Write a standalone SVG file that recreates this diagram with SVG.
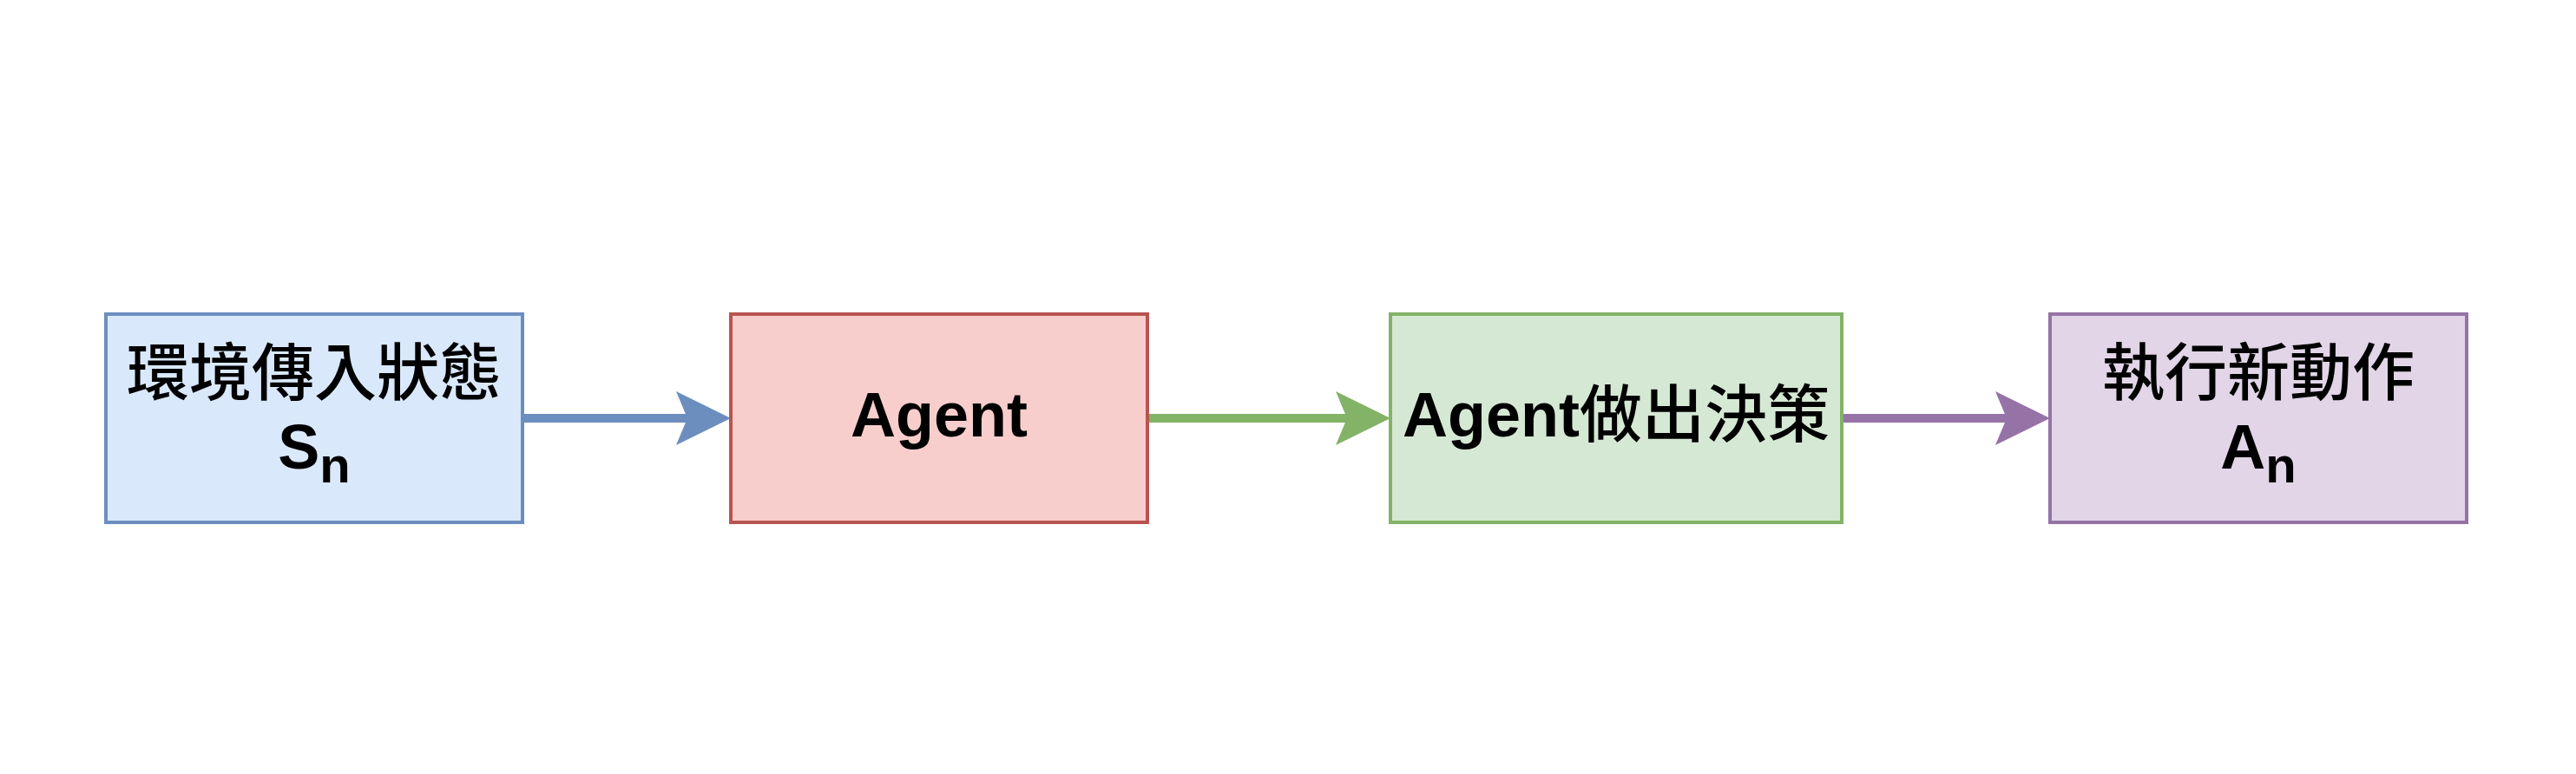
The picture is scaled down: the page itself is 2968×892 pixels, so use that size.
<svg xmlns="http://www.w3.org/2000/svg" width="2968" height="892" viewBox="0 0 2968 892">
  <style>
    .box { stroke-width: 4; }
    .lbl { font-family: "Liberation Sans", "Noto Sans CJK TC", sans-serif; font-weight: bold; font-size: 72px; fill: #000000; text-anchor: middle; }
    .cjk { font-family: "Noto Sans CJK TC", sans-serif; font-weight: 500; }
    .sub { font-size: 58px; }
    .edge { stroke-width: 10; fill: none; }
  </style>
  <rect x="0" y="0" width="2968" height="892" fill="#ffffff"/>
  <g id="connectors">
    <g id="edge1">
      <line class="edge" x1="602" y1="482" x2="795" y2="482" stroke="#6c8ebf"/>
      <polygon points="842,482 779,451 792,482 779,513" fill="#6c8ebf"/>
    </g>
    <g id="edge2">
      <line class="edge" x1="1322" y1="482" x2="1555" y2="482" stroke="#82b366"/>
      <polygon points="1602,482 1539,451 1552,482 1539,513" fill="#82b366"/>
    </g>
    <g id="edge3">
      <line class="edge" x1="2122" y1="482" x2="2315" y2="482" stroke="#9673a6"/>
      <polygon points="2362,482 2299,451 2312,482 2299,513" fill="#9673a6"/>
    </g>
  </g>
  <g id="node-state">
    <rect class="box" x="122" y="362" width="480" height="240" fill="#dae8fc" stroke="#6c8ebf"/>
    <text class="lbl cjk" x="362" y="455">環境傳入狀態</text>
    <text class="lbl" x="362" y="540">S<tspan class="sub" dy="16">n</tspan></text>
  </g>
  <g id="node-agent">
    <rect class="box" x="842" y="362" width="480" height="240" fill="#f8cecc" stroke="#b85450"/>
    <text class="lbl" x="1082" y="503">Agent</text>
  </g>
  <g id="node-decision">
    <rect class="box" x="1602" y="362" width="520" height="240" fill="#d5e8d4" stroke="#82b366"/>
    <text class="lbl" x="1862" y="503">Agent<tspan class="cjk">做出決策</tspan></text>
  </g>
  <g id="node-action">
    <rect class="box" x="2362" y="362" width="480" height="240" fill="#e1d5e7" stroke="#9673a6"/>
    <text class="lbl cjk" x="2602" y="455">執行新動作</text>
    <text class="lbl" x="2602" y="540">A<tspan class="sub" dy="16">n</tspan></text>
  </g>
</svg>
